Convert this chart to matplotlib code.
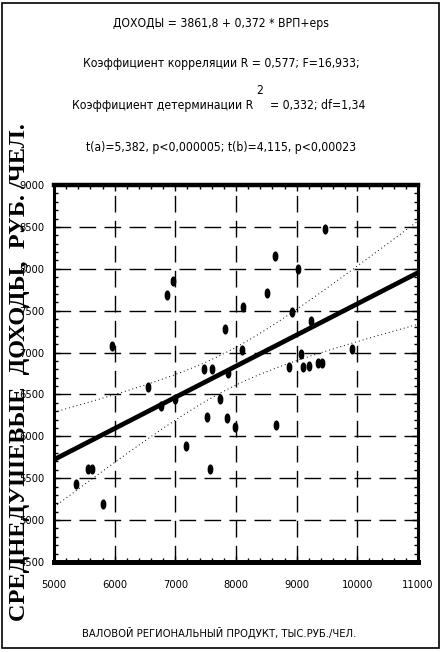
import numpy as np
import matplotlib
matplotlib.use('Agg')
import matplotlib.pyplot as plt
import matplotlib.path as mpath
from matplotlib import font_manager
from matplotlib.font_manager import FontProperties
from matplotlib.ft2font import FT2Font
from matplotlib.patches import Rectangle
from matplotlib.ticker import MultipleLocator

# valovoj regional'nyj produkt vs srednedushevye dohody
vrp = [5950, 6544, 6858, 6967, 7478, 7610, 7824, 7868, 8099, 8120, 8505, 8648,
       8874, 8918, 9027, 9071, 9099, 9209, 9231, 9357, 9423, 9467, 9906,
       6769, 6989, 7170, 7527, 7571, 7736, 7852, 7983, 8659, 5363, 5566, 5621, 5802]
dohod = [7077, 6590, 7686, 7853, 6798, 6798, 7276, 6758, 7029, 7546, 7714, 8152,
         6829, 7483, 8000, 6981, 6822, 6838, 7379, 6870, 6877, 8470, 7037,
         6360, 6440, 5890, 6232, 5615, 6451, 6213, 6113, 6141, 5428, 5615, 5615, 5189]

a_coef = 3861.8
b_coef = 0.372
t_crit = 2.032   # t(0.975; 34)

xlim = (5000, 11000)
ylim = (4500, 9000)
xticks = [5000, 6000, 7000, 8000, 9000, 10000, 11000]
yticks = [4500, 5000, 5500, 6000, 6500, 7000, 7500, 8000, 8500, 9000]

title_lines = ["ДОХОДЫ = 3861,8 + 0,372 * ВРП+eps",
               "Коэффициент корреляции R = 0,577; F=16,933;",
               "Коэффициент детерминации R",
               "= 0,332; df=1,34",
               "t(a)=5,382, p<0,000005; t(b)=4,115, p<0,00023"]
xlabel = "ВАЛОВОЙ РЕГИОНАЛЬНЫЙ ПРОДУКТ, ТЫС.РУБ./ЧЕЛ."
ylabel = "СРЕДНЕДУШЕВЫЕ  ДОХОДЫ,  РУБ. /ЧЕЛ."


def pick_narrow():
    # any condensed / narrow face that has cyrillic
    for f in font_manager.fontManager.ttflist:
        narrowish = (str(f.stretch) in ('condensed', 'semi-condensed', 'extra-condensed')
                     or 'Narrow' in f.name or 'Condensed' in f.name)
        if not narrowish or f.style != 'normal' or f.weight not in (400, 'normal', 'regular', 'book'):
            continue
        try:
            if ord('Д') not in FT2Font(f.fname).get_charmap():
                continue
        except Exception:
            continue
        return f.fname
    return None


path = pick_narrow()
if path:
    small = FontProperties(fname=path, size=8.7)
    ticks_fp = FontProperties(fname=path, size=8.0)
    xlab_fp = FontProperties(fname=path, size=8.0)
else:
    small = FontProperties(family='DejaVu Sans Mono', size=7.4)
    ticks_fp = FontProperties(family='DejaVu Sans Mono', size=7.0)
    xlab_fp = FontProperties(family='DejaVu Sans Mono', size=7.0)

x = np.array(vrp, dtype=float)
y = np.array(dohod, dtype=float)
n = len(x)

fig = plt.figure(figsize=(4.42, 6.52), dpi=100)
W, H = 442.0, 652.0
ax = fig.add_axes([54 / W, 1 - 562 / H, (418 - 54) / W, (562 - 185) / H])

# regression line and confidence band
xf = np.linspace(xlim[0], xlim[1], 200)
yf = a_coef + b_coef * xf
resid = y - (a_coef + b_coef * x)
s = np.sqrt(np.sum(resid ** 2) / (n - 2))
sxx = np.sum((x - x.mean()) ** 2)
half = t_crit * s * np.sqrt(1.0 / n + (xf - x.mean()) ** 2 / sxx)

ax.plot(xf, yf, color='black', lw=3.4, zorder=3, solid_capstyle='butt')
ax.plot(xf, yf + half, color='black', lw=0.7, linestyle=(0, (1, 3)), zorder=3)
ax.plot(xf, yf - half, color='black', lw=0.7, linestyle=(0, (1, 3)), zorder=3)

# vertical ellipse markers
circ = mpath.Path.unit_circle()
ell = mpath.Path(circ.vertices * np.array([0.5, 1.0]), circ.codes)
ax.plot(x, y, linestyle='none', marker=ell, markersize=6.3,
        color='black', zorder=4)

ax.set_xlim(*xlim)
ax.set_ylim(*ylim)
ax.set_xticks(xticks)
ax.set_yticks(yticks)
ax.xaxis.set_minor_locator(MultipleLocator(200))
ax.yaxis.set_minor_locator(MultipleLocator(100))
ax.grid(True, which='major', color='black', lw=1.0, linestyle=(0, (12, 6)))
ax.set_axisbelow(True)

ax.tick_params(which='both', direction='in', top=True, right=True,
               color='black', width=1.0)
ax.tick_params(which='major', length=4)
ax.tick_params(which='minor', length=3)
ax.tick_params(axis='x', pad=13)
ax.tick_params(axis='y', pad=7)
for lab in ax.get_xticklabels() + ax.get_yticklabels():
    lab.set_fontproperties(ticks_fp)

ax.spines['top'].set_linewidth(3.2)
ax.spines['bottom'].set_linewidth(3.6)
ax.spines['left'].set_linewidth(2.2)
ax.spines['right'].set_linewidth(2.2)

# title block
fig.text(0.5, 1 - 23 / H, title_lines[0], ha='center', va='center', fontproperties=small)
fig.text(0.5, 1 - 63 / H, title_lines[1], ha='center', va='center', fontproperties=small)
fig.text(253 / W, 1 - 105 / H, title_lines[2], ha='right', va='center', fontproperties=small)
fig.text(260 / W, 1 - 91 / H, "2", ha='center', va='center', fontproperties=small)
fig.text(270 / W, 1 - 105 / H, title_lines[3], ha='left', va='center', fontproperties=small)
fig.text(0.5, 1 - 147 / H, title_lines[4], ha='center', va='center', fontproperties=small)

fig.text(219 / W, 1 - 633 / H, xlabel, ha='center', va='center', fontproperties=xlab_fp)
fig.text(20 / W, 1 - 372 / H, ylabel, ha='center', va='center', rotation=90,
         family=['Liberation Serif', 'DejaVu Serif'], fontweight='bold', size=17.5)

fig.add_artist(Rectangle((2 / W, 4 / H), 437 / W, 645 / H, transform=fig.transFigure,
                         fill=False, lw=1.2, ec='black'))

fig.savefig('out.png', dpi=100)
